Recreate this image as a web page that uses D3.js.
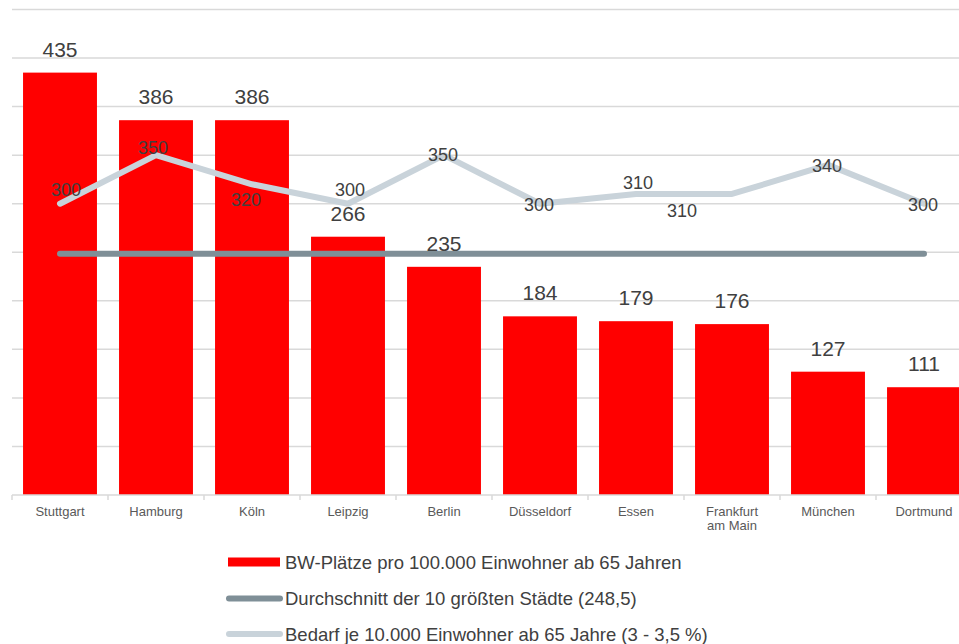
<!DOCTYPE html>
<html>
<head>
<meta charset="utf-8">
<script src="https://cdn.jsdelivr.net/npm/d3@7/dist/d3.min.js"></script>
<style>
body { margin: 0; background: #fff; font-family: "Liberation Sans", Arial, sans-serif; }
svg { display: block; }
</style>
</head>
<body>
<div id="chart"></div>
<script>
// data
var cities = ["Stuttgart", "Hamburg", "Köln", "Leipzig", "Berlin", "Düsseldorf", "Essen", "Frankfurt am Main", "München", "Dortmund"];
var places = [435, 386, 386, 266, 235, 184, 179, 176, 127, 111];
var demand = [300, 350, 320, 300, 350, 300, 310, 310, 340, 300];
var average = 248.5;
var legendLabels = [
  "BW-Plätze pro 100.000 Einwohner ab 65 Jahren",
  "Durchschnitt der 10 größten Städte (248,5)",
  "Bedarf je 10.000 Einwohner ab 65 Jahre (3 - 3,5 %)"
];

// label nudges for the demand line (px from the point)
var demandOffsets = [[6, -14], [-3, -7], [-6, 16], [2, -14], [-1, 0], [-1, 1], [2, -11], [-50, 17], [-1, 1], [-1, 1]];

var W = 959, H = 644;
var svg = d3.select("#chart").append("svg").attr("width", W).attr("height", H);

var x = d3.scaleBand().domain(cities).range([12, 972]).paddingInner(0.23).paddingOuter(0.115);
var y = d3.scaleLinear().domain([0, 500]).range([495, 9.5]);

// gridlines
svg.append("g").selectAll("line")
  .data(y.ticks(10).filter(function(d) { return d > 0; }))
  .enter().append("line")
  .attr("x1", 12).attr("x2", W)
  .attr("y1", function(d) { return y(d); }).attr("y2", function(d) { return y(d); })
  .attr("stroke", "#d9d9d9").attr("stroke-width", 1.5);

// bars
svg.append("g").selectAll("rect")
  .data(places)
  .enter().append("rect")
  .attr("x", function(d, i) { return x(cities[i]); })
  .attr("width", x.bandwidth())
  .attr("y", function(d) { return y(d); })
  .attr("height", function(d) { return y(0) - y(d); })
  .attr("fill", "#ff0000");

// x axis
var xAxis = svg.append("g").attr("transform", "translate(0," + y(0) + ")")
  .call(d3.axisBottom(x).tickSize(0).tickFormat(""));
xAxis.select(".domain").attr("stroke", "#d9d9d9").attr("stroke-width", 1.5).attr("d", "M12,0H" + W);
var bounds = d3.range(cities.length + 1).map(function(i) { return 12 + i * x.step(); });
xAxis.selectAll(".sep").data(bounds).enter().append("line")
  .attr("x1", function(d) { return d; }).attr("x2", function(d) { return d; })
  .attr("y1", 0).attr("y2", 5)
  .attr("stroke", "#d9d9d9").attr("stroke-width", 1.5);

var catLabels = svg.append("g").selectAll("text")
  .data(cities)
  .enter().append("text")
  .attr("text-anchor", "middle")
  .attr("font-size", 13)
  .attr("fill", "#595959")
  .attr("x", function(d) { return x(d) + x.bandwidth() / 2; })
  .attr("y", 516);
catLabels.each(function(d) {
  var t = d3.select(this);
  var parts = d === "Frankfurt am Main" ? ["Frankfurt", "am Main"] : [d];
  parts.forEach(function(p, k) {
    t.append("tspan").attr("x", t.attr("x")).attr("dy", k === 0 ? 0 : 14).text(p);
  });
});

// average line
svg.append("line")
  .attr("x1", x(cities[0]) + x.bandwidth() / 2)
  .attr("x2", x(cities[cities.length - 1]) + x.bandwidth() / 2)
  .attr("y1", y(average)).attr("y2", y(average))
  .attr("stroke", "#7f8f97").attr("stroke-width", 6).attr("stroke-linecap", "round");

// demand line
var line = d3.line()
  .x(function(d, i) { return x(cities[i]) + x.bandwidth() / 2; })
  .y(function(d) { return y(d); });
svg.append("path")
  .datum(demand)
  .attr("d", line)
  .attr("fill", "none")
  .attr("stroke", "#c9d3da").attr("stroke-width", 6)
  .attr("stroke-linecap", "round").attr("stroke-linejoin", "round");

// bar labels
svg.append("g").selectAll("text")
  .data(places)
  .enter().append("text")
  .attr("text-anchor", "middle")
  .attr("font-size", 21)
  .attr("fill", "#404040")
  .attr("x", function(d, i) { return x(cities[i]) + x.bandwidth() / 2; })
  .attr("y", function(d) { return y(d) - 16; })
  .text(function(d) { return d; });

// demand labels
svg.append("g").selectAll("text")
  .data(demand)
  .enter().append("text")
  .attr("text-anchor", "middle")
  .attr("dominant-baseline", "central")
  .attr("font-size", 18)
  .attr("fill", "#404040")
  .attr("x", function(d, i) { return x(cities[i]) + x.bandwidth() / 2 + demandOffsets[i][0]; })
  .attr("y", function(d, i) { return y(d) + demandOffsets[i][1]; })
  .text(function(d) { return d; });

// legend
var lg = svg.append("g");
var rowY = [562, 598.5, 634];
lg.append("rect").attr("x", 228).attr("y", rowY[0] - 4.5).attr("width", 52).attr("height", 9).attr("fill", "#ff0000");
lg.append("line").attr("x1", 229).attr("x2", 280).attr("y1", rowY[1]).attr("y2", rowY[1])
  .attr("stroke", "#7f8f97").attr("stroke-width", 6).attr("stroke-linecap", "round");
lg.append("line").attr("x1", 229).attr("x2", 280).attr("y1", rowY[2]).attr("y2", rowY[2])
  .attr("stroke", "#c9d3da").attr("stroke-width", 6).attr("stroke-linecap", "round");
lg.selectAll("text").data(legendLabels).enter().append("text")
  .attr("x", 285)
  .attr("y", function(d, i) { return rowY[i]; })
  .attr("dominant-baseline", "central")
  .attr("font-size", 18.5)
  .attr("fill", "#404040")
  .text(function(d) { return d; });
</script>
</body>
</html>
